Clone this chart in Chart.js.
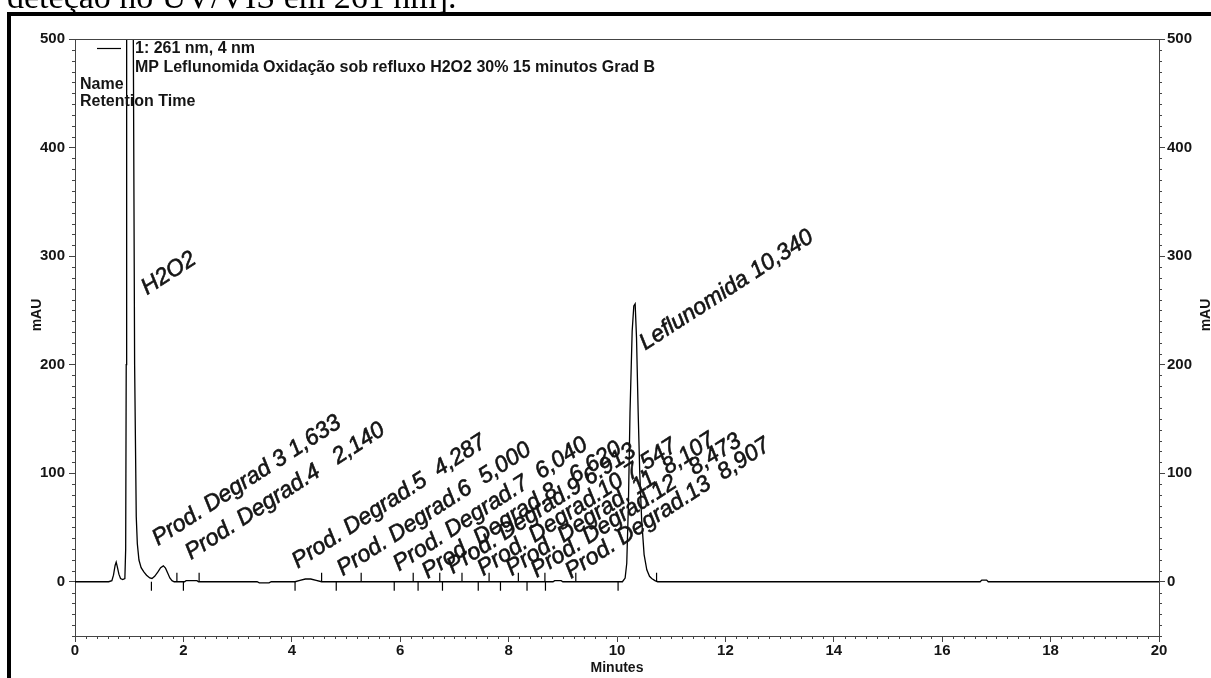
<!DOCTYPE html>
<html>
<head>
<meta charset="utf-8">
<script src="https://cdn.jsdelivr.net/npm/chart.js@4.4.1/dist/chart.umd.min.js"></script>
<style>
  html, body { margin: 0; padding: 0; background: #fff; }
  canvas { display: block; }
</style>
</head>
<body>
<canvas id="c" width="1211" height="678" style="width:1211px;height:678px"></canvas>
<script>
// ---------------- DATA ----------------
// chromatogram trace (Minutes, mAU)
const traceTime = [0, 0.62, 0.68, 0.71, 0.74, 0.76, 0.78, 0.81, 0.84, 0.88, 0.92, 0.935, 0.945, 0.953, 0.97, 1.0, 1.03, 1.076, 1.10, 1.13, 1.15, 1.18, 1.22, 1.27, 1.32, 1.38, 1.42, 1.47, 1.53, 1.58, 1.63, 1.67, 1.71, 1.75, 1.79, 1.83, 2.02, 2.05, 2.25, 2.28, 3.36, 3.40, 3.58, 3.62, 4.06, 4.15, 4.25, 4.35, 4.45, 4.55, 8.82, 8.85, 8.97, 9.0, 10.10, 10.15, 10.18, 10.21, 10.24, 10.28, 10.31, 10.335, 10.36, 10.39, 10.42, 10.455, 10.50, 10.55, 10.60, 10.64, 10.70, 10.75, 16.70, 16.73, 16.82, 16.85, 20];
const traceAbs  = [0, 0, 1, 6, 15, 18, 14, 7, 3, 2, 3, 30, 200, 500, 1300, 1900, 1400, 500, 200, 60, 35, 20, 13, 9, 6, 3.5, 3, 5, 9, 13, 14.6, 12.5, 8, 3.5, 1, 0, 0, 1, 1, 0, 0, -1, -1, 0, 0, 1.2, 2.5, 2.5, 1.2, 0, 0, 1, 1, 0, 0, 3.4, 17, 70, 156, 231, 254, 256, 225, 157, 100, 57, 25, 11, 5, 3, 1, 0, 0, 1.5, 1.5, 0, 0];

// integration markers (Minutes)
const peakStarts = [1.41, 2.0, 4.06, 4.82, 5.89, 6.33, 6.78, 7.44, 7.85, 8.34, 8.68, 10.02];
const peakEnds   = [1.88, 2.29, 4.55, 5.28, 6.24, 6.73, 7.14, 7.64, 8.18, 8.67, 9.24, 10.73];

// peak names and retention time labels
const peakNames = ['H2O2', 'Prod. Degrad 3', 'Prod. Degrad.4', 'Prod. Degrad.5', 'Prod. Degrad.6', 'Prod. Degrad.7', 'Prod. Degrad.8', 'Prod. Degrad.9', 'Prod. Degrad.10', 'Prod. Degrad. 11', 'Prod. Degrad.12', 'Prod. Degrad.13', 'Leflunomida'];
const peakTimes = ['', '1,633', '2,140', '4,287', '5,000', '6,040', '6,620', '6.913', '7,547', '8,107', '8,473', '8,907', '10,340'];

// axis ticks
const xTicks = [0, 2, 4, 6, 8, 10, 12, 14, 16, 18, 20];
const yTicks = [0, 100, 200, 300, 400, 500];

// texts
const captionText = 'deteção no UV/VIS em 261 nm].';
const legendLines = ['1: 261 nm, 4 nm', 'MP Leflunomida Oxidação sob refluxo H2O2 30% 15 minutos Grad B'];
const legendKeys = ['Name', 'Retention Time'];
const xTitle = 'Minutes';
const yTitle = 'mAU';

// ---------------- LAYOUT (not data) ----------------
const labelSep = ['', ' ', '   ', '  ', '  ', '  ', '   ', ' ', ' ', '  ', '   ', '  ', ' '];
const labelAt = [[1.33, 264], [1.53, 33], [2.14, 20], [4.11, 12], [4.94, 5], [5.98, 9.5], [6.51, 2.5], [6.97, 7], [7.53, 5], [8.06, 5], [8.52, 3.5], [9.15, 2.5], [10.52, 213]];
const LABEL_ANGLE = 33;
const MARK_HALF = 4.5;   // px half-length of marker
const AX = '#444';
const TXT = '#151515';
const FONT = '"Liberation Sans", Arial, sans-serif';

const markOff = MARK_HALF / ((636 - 39) / 550);

const trace = traceTime.map((t, i) => ({ x: t, y: traceAbs[i] }));
const startPts = peakStarts.map(t => ({ x: t, y: -markOff }));
const endPts = peakEnds.map(t => ({ x: t, y: markOff }));

const deco = {
  id: 'deco',
  beforeDraw(chart) {
    const c = chart.ctx;
    c.save();
    c.fillStyle = '#fff';
    c.fillRect(0, 0, chart.width, chart.height);
    c.fillStyle = '#000';
    c.font = '34px "Liberation Serif", "Times New Roman", serif';
    c.textBaseline = 'alphabetic';
    c.textAlign = 'left';
    c.fillText(captionText, 7, 8);
    c.fillRect(7, 12, chart.width, 4);
    c.fillRect(7, 12, 4, chart.height);
    c.restore();
  },
  afterDatasetsDraw(chart) {
    const c = chart.ctx;
    const xs = chart.scales.x, ys = chart.scales.y, a = chart.chartArea;
    c.save();
    // top frame line
    c.strokeStyle = AX; c.lineWidth = 1;
    c.beginPath(); c.moveTo(a.left, a.top + 0.5); c.lineTo(a.right, a.top + 0.5); c.stroke();
    // minor ticks
    c.beginPath();
    for (let v = -50; v <= 500; v += 10) {
      if (v % 100 === 0) continue;
      const p = Math.round(ys.getPixelForValue(v)) + 0.5;
      c.moveTo(a.left - 3, p); c.lineTo(a.left, p);
      c.moveTo(a.right, p); c.lineTo(a.right + 3, p);
    }
    for (let k = 0; k <= 100; k++) {
      if (k % 10 === 0) continue;
      const p = Math.round(xs.getPixelForValue(k * 0.2)) + 0.5;
      c.moveTo(p, a.bottom); c.lineTo(p, a.bottom + 3);
    }
    c.stroke();
    // peak labels
    c.fillStyle = TXT;
    c.strokeStyle = TXT;
    c.lineWidth = 0.6;
    c.font = 'italic 23px ' + FONT;
    c.textBaseline = 'alphabetic';
    c.textAlign = 'left';
    peakNames.forEach((n, i) => {
      const px = xs.getPixelForValue(labelAt[i][0]);
      const py = ys.getPixelForValue(labelAt[i][1]);
      const t = n + labelSep[i] + peakTimes[i];
      c.save();
      c.translate(px, py);
      c.rotate(-LABEL_ANGLE * Math.PI / 180);
      c.fillText(t, 0, 0);
      c.strokeText(t, 0, 0);
      c.restore();
    });
    // legend
    c.font = 'bold 16px ' + FONT;
    c.fillText(legendLines[0], 135, 53);
    c.fillText(legendLines[1], 135, 72);
    c.fillText(legendKeys[0], 80, 89);
    c.fillText(legendKeys[1], 80, 106);
    c.strokeStyle = '#000'; c.lineWidth = 1.2;
    c.beginPath(); c.moveTo(97, 48.5); c.lineTo(121, 48.5); c.stroke();
    // axis titles
    c.font = 'bold 14px ' + FONT;
    c.textAlign = 'center'; c.textBaseline = 'middle';
    c.fillText(xTitle, (a.left + a.right) / 2, 668);
    c.save(); c.translate(37, 315); c.rotate(-Math.PI / 2); c.fillText(yTitle, 0, 0); c.restore();
    c.save(); c.translate(1206, 315); c.rotate(-Math.PI / 2); c.fillText(yTitle, 0, 0); c.restore();
    c.restore();
  }
};

const tickFont = { family: FONT, size: 15, weight: 'bold' };

new Chart(document.getElementById('c'), {
  type: 'scatter',
  data: {
    datasets: [
      { data: trace, showLine: true, borderColor: '#000', borderWidth: 1.3, pointRadius: 0, tension: 0 },
      { data: startPts, showLine: false, pointStyle: 'line', rotation: 90, pointRadius: MARK_HALF, borderColor: '#000', borderWidth: 1.2 },
      { data: endPts, showLine: false, pointStyle: 'line', rotation: 90, pointRadius: MARK_HALF, borderColor: '#000', borderWidth: 1.2 }
    ]
  },
  options: {
    responsive: false,
    animation: false,
    devicePixelRatio: 1,
    layout: { padding: { top: 39, left: 0, right: 0, bottom: 0 } },
    plugins: { legend: { display: false }, tooltip: { enabled: false } },
    scales: {
      x: {
        type: 'linear', position: 'bottom', min: 0, max: 20,
        afterBuildTicks: s => { s.ticks = xTicks.map(v => ({ value: v })); },
        afterFit: s => { s.height = 42; },
        ticks: { font: tickFont, color: TXT, padding: 0, maxRotation: 0, autoSkip: false },
        grid: { drawOnChartArea: false, tickLength: 6, color: AX },
        border: { color: AX }
      },
      y: {
        type: 'linear', position: 'left', min: -50, max: 500,
        afterBuildTicks: s => { s.ticks = yTicks.map(v => ({ value: v })); },
        afterFit: s => { s.width = 75; },
        ticks: { font: tickFont, color: TXT, padding: 4 },
        grid: { drawOnChartArea: false, tickLength: 6, color: AX },
        border: { color: AX }
      },
      y2: {
        type: 'linear', position: 'right', min: -50, max: 500,
        afterBuildTicks: s => { s.ticks = yTicks.map(v => ({ value: v })); },
        afterFit: s => { s.width = 52; },
        ticks: { font: tickFont, color: TXT, padding: 2 },
        grid: { drawOnChartArea: false, tickLength: 6, color: AX },
        border: { color: AX }
      }
    }
  },
  plugins: [deco]
});
</script>
</body>
</html>
